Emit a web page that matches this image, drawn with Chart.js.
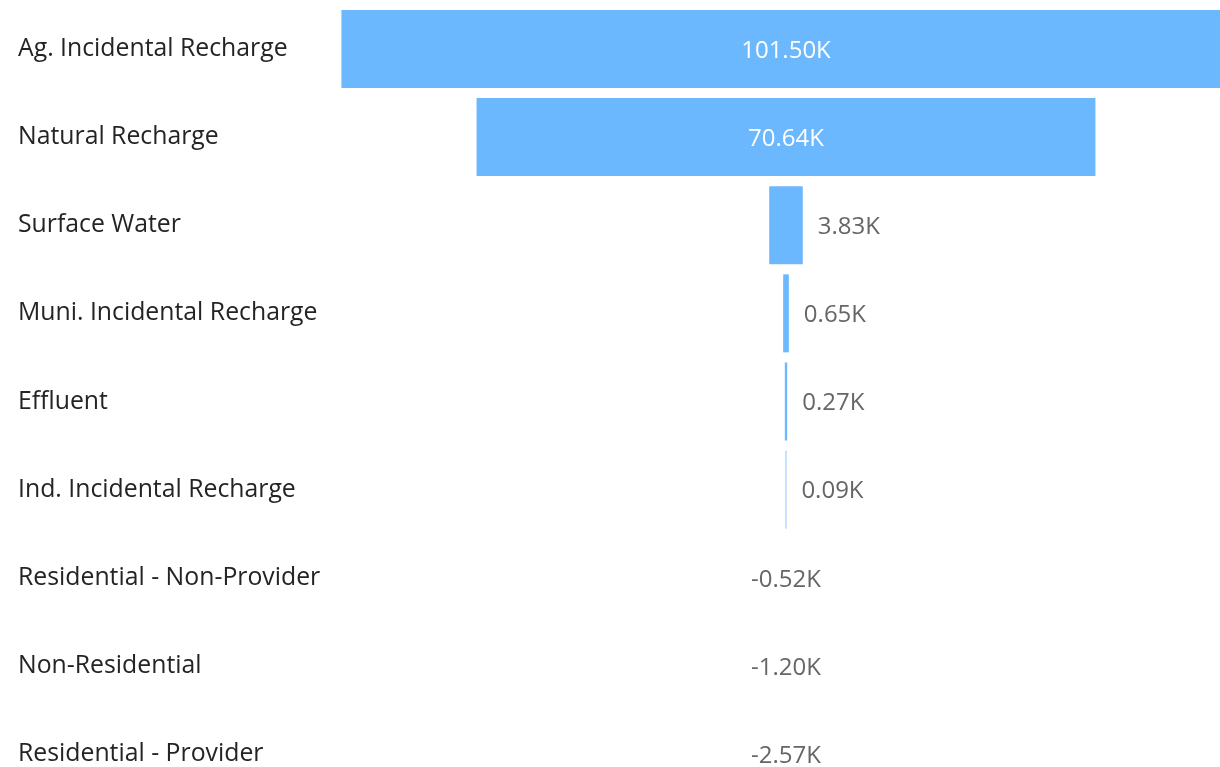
<!DOCTYPE html>
<html>
<head>
<meta charset="utf-8">
<script src="https://cdn.jsdelivr.net/npm/chart.js@4/dist/chart.umd.min.js"></script>
<style>
  html, body { margin: 0; padding: 0; background: #fff; overflow: hidden; height: 767px; }
  #wrap { position: relative; top: -10px; width: 1220px; height: 823px; }
</style>
</head>
<body>
<div id="wrap"><canvas id="chart" width="1220" height="823"></canvas></div>
<script>
const categories = [
  'Ag. Incidental Recharge',
  'Natural Recharge',
  'Surface Water',
  'Muni. Incidental Recharge',
  'Effluent',
  'Ind. Incidental Recharge',
  'Residential - Non-Provider',
  'Non-Residential',
  'Residential - Provider'
];
const values = [101.50, 70.64, 3.83, 0.65, 0.27, 0.09, -0.52, -1.20, -2.57];

// funnel: each bar centred on 0, negatives have no bar
const funnelData = values.map(v => v > 0 ? [-v / 2, v / 2] : [0, 0]);

const valueLabels = {
  id: 'valueLabels',
  afterDatasetsDraw(chart) {
    const ctx = chart.ctx;
    const meta = chart.getDatasetMeta(0);
    const xScale = chart.scales.x;
    ctx.save();
    ctx.font = '24px "Open Sans", sans-serif';
    ctx.textBaseline = 'middle';
    meta.data.forEach((bar, i) => {
      const v = values[i];
      const txt = v.toFixed(2) + 'K';
      const y = bar.y + 2;
      const left = Math.max(bar.base, chart.chartArea.left);
      const right = Math.min(bar.x, chart.chartArea.right);
      const w = right - left;
      const tw = ctx.measureText(txt).width;
      if (v <= 0) {
        ctx.fillStyle = '#666666';
        ctx.textAlign = 'center';
        ctx.fillText(txt, xScale.getPixelForValue(0), y);
      } else if (w > tw + 20) {
        ctx.fillStyle = '#ffffff';
        ctx.textAlign = 'center';
        ctx.fillText(txt, xScale.getPixelForValue(0), y);
      } else {
        ctx.fillStyle = '#666666';
        ctx.textAlign = 'left';
        ctx.fillText(txt, bar.x + 15, y);
      }
    });
    ctx.restore();
  }
};

new Chart(document.getElementById('chart').getContext('2d'), {
  type: 'bar',
  data: {
    labels: categories,
    datasets: [{
      data: funnelData,
      backgroundColor: '#6cb8ff',
      borderWidth: 0,
      borderSkipped: false,
      categoryPercentage: 1,
      barPercentage: 0.885
    }]
  },
  options: {
    indexAxis: 'y',
    responsive: false,
    animation: false,
    layout: { padding: { left: 18, top: 0, right: 0, bottom: 0 } },
    plugins: {
      legend: { display: false },
      tooltip: { enabled: false }
    },
    scales: {
      x: {
        display: false,
        min: -50.91,
        max: 49.54,
        grid: { display: false }
      },
      y: {
        grid: { display: false },
        border: { display: false },
        afterFit(axis) { axis.width = 322; },
        ticks: {
          crossAlign: 'far',
          color: '#252423',
          padding: 0,
          font: { family: '"Open Sans", sans-serif', size: 24.8 }
        }
      }
    }
  },
  plugins: [valueLabels]
});
</script>
</body>
</html>
